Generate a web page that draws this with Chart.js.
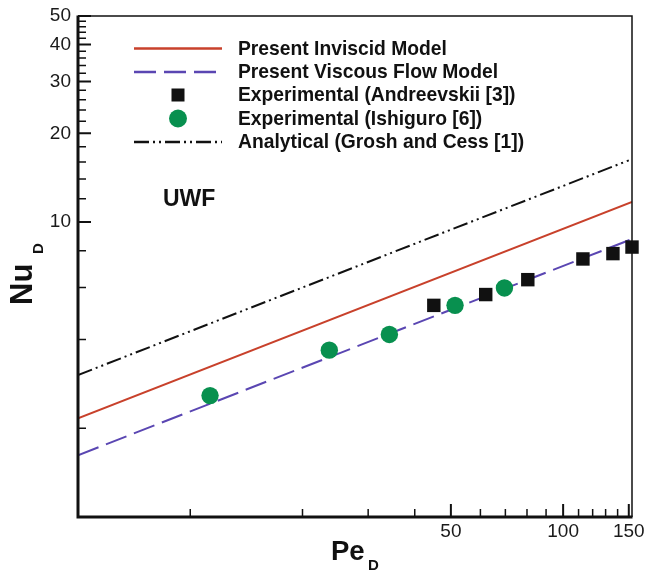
<!DOCTYPE html>
<html>
<head>
<meta charset="utf-8">
<script src="https://cdn.jsdelivr.net/npm/chart.js@4/dist/chart.umd.min.js"></script>
<style>
  html,body{margin:0;padding:0;background:#fff;}
  canvas{display:block;}
</style>
</head>
<body>
<canvas id="c" width="646" height="573"></canvas>
<script>
// values (Pe_D on x, Nu_D on y, both log)
const inviscidPe = [5, 153];
const inviscidNu = [2.16, 11.7];
const viscousPe  = [5, 153];
const viscousNu  = [1.62, 8.76];
const analyticPe = [5, 150];
const analyticNu = [3.03, 16.2];
const andreevPe  = [45, 62, 80.4, 113, 136, 153];
const andreevNu  = [5.22, 5.68, 6.38, 7.5, 7.82, 8.23];
const ishiguroPe = [11.3, 23.6, 34.2, 51.3, 69.6];
const ishiguroNu = [2.58, 3.68, 4.16, 5.22, 5.98];

const xMajorTicks = [50, 100, 150];
const xMinorTicks = [10, 20, 30, 40, 60, 70, 80, 90, 110, 120, 130, 140];
const yMajorTicks = [10, 20, 30, 40, 50];
const yMinorTicks = [2, 4, 6, 8, 12, 14, 16, 18, 22, 24, 26, 28, 32, 34, 36, 38, 42, 44, 46, 48];

const labels = [
  'Present Inviscid Model',
  'Present Viscous Flow Model',
  'Experimental (Andreevskii [3])',
  'Experimental (Ishiguro [6])',
  'Analytical (Grosh and Cess [1])'
];

const pts = (xs, ys) => xs.map((x,i)=>({x, y:ys[i]}));
const FONT = '"Liberation Sans", Arial, Helvetica, sans-serif';
const RED = '#c8412b', BLUE = '#5a46b2', GREEN = '#08904f', BLACK = '#111';

const lineDs = (lbl, data, color, dash) => ({
  label: lbl, data, showLine: true, borderColor: color, borderWidth: 2,
  borderDash: dash, pointRadius: 0, fill: false, order: 1
});

const datasets = [
  lineDs(labels[0], pts(inviscidPe, inviscidNu), RED, []),
  lineDs(labels[1], pts(viscousPe, viscousNu), BLUE, [22, 8]),
  { label: labels[2], data: pts(andreevPe, andreevNu), pointStyle: 'rect', pointRadius: 9.5,
    backgroundColor: BLACK, borderColor: BLACK, borderWidth: 0, showLine: false, order: 0, clip: false },
  { label: labels[3], data: pts(ishiguroPe, ishiguroNu), pointStyle: 'circle', pointRadius: 8.7,
    backgroundColor: GREEN, borderColor: GREEN, borderWidth: 0, showLine: false, order: 0 },
  lineDs(labels[4], pts(analyticPe, analyticNu), BLACK, [15, 4, 2, 4, 2, 4])
];

const decor = {
  id: 'decor',
  afterDraw(chart) {
    const {ctx, chartArea: a, scales: {x, y}} = chart;
    ctx.save();
    // frame
    ctx.strokeStyle = BLACK;
    ctx.lineWidth = 1.5;
    ctx.beginPath();
    ctx.moveTo(a.left, a.top); ctx.lineTo(a.right, a.top); ctx.lineTo(a.right, a.bottom);
    ctx.stroke();
    ctx.lineWidth = 3;
    ctx.beginPath();
    ctx.moveTo(a.left, a.top - 0.5); ctx.lineTo(a.left, a.bottom); ctx.lineTo(a.right + 0.5, a.bottom);
    ctx.stroke();
    // inward ticks
    const tick = (vals, len, w, axis) => {
      ctx.lineWidth = w;
      ctx.beginPath();
      vals.forEach(v => {
        if (axis === 'x') {
          const px = x.getPixelForValue(v);
          ctx.moveTo(px, a.bottom); ctx.lineTo(px, a.bottom - len);
        } else {
          const py = y.getPixelForValue(v);
          ctx.moveTo(a.left, py); ctx.lineTo(a.left + len, py);
        }
      });
      ctx.stroke();
    };
    tick(xMajorTicks, 13, 2, 'x');
    tick(xMinorTicks, 8, 1.5, 'x');
    tick(yMajorTicks, 13, 2, 'y');
    tick(yMinorTicks, 8, 1.5, 'y');

    // legend
    const rowY = [48.5, 72, 95, 118.5, 142];
    const x0 = 134, x1 = 222, tx = 238;
    ctx.textBaseline = 'middle';
    ctx.textAlign = 'left';
    ctx.font = 'bold 19.3px ' + FONT;
    chart.data.datasets.forEach((ds, i) => {
      const yy = rowY[i];
      if (ds.showLine) {
        ctx.strokeStyle = ds.borderColor;
        ctx.lineWidth = 2.5;
        ctx.setLineDash(ds.borderDash);
        ctx.beginPath(); ctx.moveTo(x0, yy); ctx.lineTo(x1, yy); ctx.stroke();
        ctx.setLineDash([]);
      } else {
        ctx.fillStyle = ds.backgroundColor;
        const cx = (x0 + x1) / 2;
        if (ds.pointStyle === 'rect') ctx.fillRect(cx - 6.5, yy - 6.5, 13, 13);
        else { ctx.beginPath(); ctx.arc(cx, yy, 9, 0, Math.PI * 2); ctx.fill(); }
      }
      ctx.fillStyle = '#111';
      ctx.fillText(ds.label, tx, yy + 1);
    });

    // UWF
    ctx.font = 'bold 23px ' + FONT;
    ctx.fillText('UWF', 163, 200);

    // axis titles
    ctx.textBaseline = 'alphabetic';
    ctx.font = 'bold 27.5px ' + FONT;
    ctx.fillText('Pe', 331, 559.5);
    ctx.font = 'bold 15px ' + FONT;
    ctx.fillText('D', 368, 570);

    ctx.translate(32, 305);
    ctx.rotate(-Math.PI / 2);
    ctx.font = 'bold 31px ' + FONT;
    ctx.fillText('Nu', 0, 0);
    ctx.font = 'bold 15px ' + FONT;
    ctx.fillText('D', 51, 10.5);
    ctx.restore();
  }
};

new Chart(document.getElementById('c'), {
  type: 'scatter',
  data: { datasets },
  options: {
    responsive: false,
    animation: false,
    devicePixelRatio: 1,
    layout: { padding: { top: 16, right: 14, left: 0, bottom: 0 } },
    plugins: { legend: { display: false }, tooltip: { enabled: false } },
    scales: {
      x: {
        type: 'logarithmic', min: 5, max: 153,
        grid: { display: false, drawTicks: false }, border: { display: false },
        afterBuildTicks: s => { s.ticks = xMajorTicks.map(v => ({ value: v })); },
        afterFit: s => { s.height = 56; s.paddingLeft = 0; s.paddingRight = 0; },
        ticks: { color: '#1a1a1a', font: { family: FONT, size: 19 }, padding: 3,
                 maxRotation: 0, autoSkip: false, callback: v => String(v) }
      },
      y: {
        type: 'logarithmic', min: 1, max: 50,
        grid: { display: false, drawTicks: false }, border: { display: false },
        afterBuildTicks: s => { s.ticks = yMajorTicks.map(v => ({ value: v })); },
        afterFit: s => { s.width = 78; s.paddingTop = 0; s.paddingBottom = 0; },
        ticks: { color: '#1a1a1a', font: { family: FONT, size: 19 }, padding: 7,
                 autoSkip: false, callback: v => String(v) }
      }
    }
  },
  plugins: [decor]
});
</script>
</body>
</html>
